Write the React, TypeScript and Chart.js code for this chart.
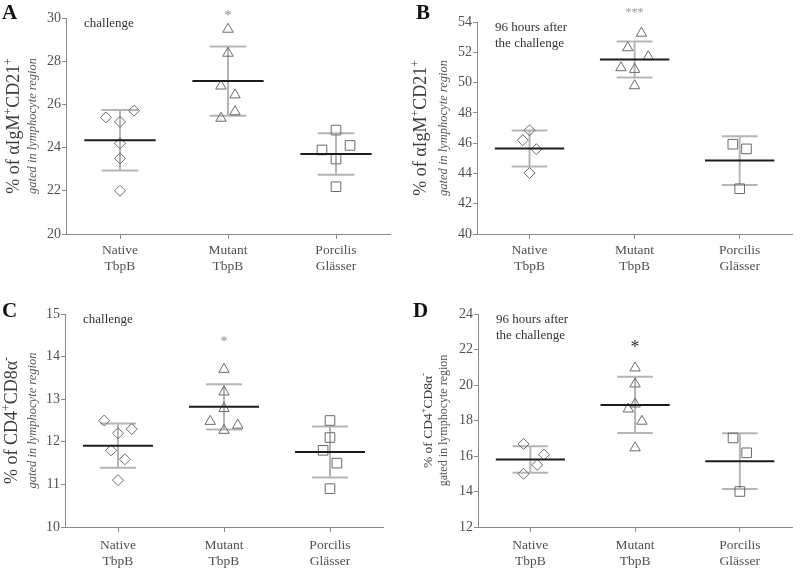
import React, { useEffect, useRef } from "react";
import { Chart, registerables } from "chart.js";

Chart.register(...registerables);

// ---------- DATA ----------
const categoryLabels: string[][] = [["Native", "TbpB"], ["Mutant", "TbpB"], ["Porcilis", "Glässer"]];

// Panel A: % of αIgM+CD21+ (challenge)
const aNative = [25.4, 25.71, 25.19, 24.2, 23.5, 22.0];
const aNativeLane = [-1, 1, 0, 0, 0, 0];
const aMutant = [29.48, 28.37, 26.85, 26.44, 25.66, 25.36];
const aMutantLane = [0, 0, -0.5, 0.5, 0.5, -0.5];
const aPorcilis = [24.81, 23.89, 24.1, 23.47, 22.19];
const aPorcilisLane = [0, -1, 1, 0, 0];
const aMeans = [24.34, 27.08, 23.7];
const aSDs = [1.4, 1.6, 0.96];
const aSig = ["", "*", ""];
const aSigY = 30.23;
const aTicks = { min: 20, max: 30, step: 2 };

// Panel B: % of αIgM+CD21+ (96 hours after the challenge)
const bNative = [46.85, 46.19, 45.6, 44.03];
const bNativeLane = [0, -0.5, 0.5, 0];
const bMutant = [53.26, 52.3, 51.71, 50.98, 50.87, 49.79];
const bMutantLane = [0.5, -0.5, 1, -1, 0, 0];
const bPorcilis = [45.93, 45.62, 42.99];
const bPorcilisLane = [-0.5, 0.5, 0];
const bMeans = [45.64, 51.53, 44.85];
const bSDs = [1.19, 1.19, 1.61];
const bSig = ["", "***", ""];
const bSigY = 54.8;
const bTicks = { min: 40, max: 54, step: 2 };

// Panel C: % of CD4+CD8α- (challenge)
const cNative = [12.5, 12.3, 12.2, 11.8, 11.59, 11.1];
const cNativeLane = [-1, 1, 0, -0.5, 0.5, 0];
const cMutant = [13.7, 13.17, 12.78, 12.48, 12.39, 12.27];
const cMutantLane = [0, 0, 0, -1, 1, 0];
const cPorcilis = [12.5, 12.1, 11.8, 11.5, 10.9];
const cPorcilisLane = [0, 0, -0.5, 0.5, 0];
const cMeans = [11.91, 12.82, 11.76];
const cSDs = [0.52, 0.53, 0.6];
const cSig = ["", "*", ""];
const cSigY = 14.41;
const cTicks = { min: 10, max: 15, step: 1 };

// Panel D: % of CD4+CD8α- (96 hours after the challenge)
const dNative = [16.68, 16.08, 15.5, 15.0];
const dNativeLane = [-0.5, 1, 0.5, -0.5];
const dMutant = [20.96, 20.06, 18.93, 18.65, 17.96, 16.46];
const dMutantLane = [0, 0, 0, -0.5, 0.5, 0];
const dPorcilis = [17.02, 16.18, 14.0];
const dPorcilisLane = [-0.5, 0.5, 0];
const dMeans = [15.8, 18.88, 15.71];
const dSDs = [0.75, 1.58, 1.57];
const dSig = ["", "*", ""];
const dSigY = 22.31;
const dTicks = { min: 12, max: 24, step: 2 };

const noteChallenge = ["challenge"];
const note96h = ["96 hours after", "the challenge"];

type Seg = [string, boolean];
const titleIgM: Seg[] = [["% of αIgM", false], ["+", true], ["CD21", false], ["+", true]];
const titleCD4: Seg[] = [["% of CD4", false], ["+", true], ["CD8α", false], ["-", true]];
const subTitle = "gated in lymphocyte region";

// ---------- STYLE ----------
const SERIF = "'Liberation Serif', 'Times New Roman', serif";
const AXIS = "#8a8a8a";
const TICK = "#505050";
const LANE = 0.13;
const MEAN_HALF = 0.33;
const CAP_HALF = 0.17;
const STYLES = ["rectRot", "triangle", "rect"];
const RADII = [5.5, 6, 6.8];

interface PanelDef {
  letter: string;
  letterX: number;
  letterY: number;
  left: number;
  top: number;
  width: number;
  height: number;
  yAxisW: number;
  xAxisH: number;
  padTop: number;
  padRight: number;
  labelPad: number;
  ticks: { min: number; max: number; step: number };
  groups: number[][];
  lanes: number[][];
  means: number[];
  sds: number[];
  sig: string[];
  sigY: number;
  sigSize: number;
  sigColor: string;
  note: string[];
  titleMain: Seg[];
  mainSize: number;
  mainOff: number;
  subSize: number;
  subOff: number;
  subItalic: boolean;
}

const panels: PanelDef[] = [
  {
    letter: "A", letterX: 2, letterY: 19, left: 0, top: 0, width: 400, height: 284,
    yAxisW: 66, xAxisH: 50, padTop: 18, padRight: 10, labelPad: 3, ticks: aTicks,
    groups: [aNative, aMutant, aPorcilis], lanes: [aNativeLane, aMutantLane, aPorcilisLane],
    means: aMeans, sds: aSDs, sig: aSig, sigY: aSigY, sigSize: 14, sigColor: "#8a8a8a",
    note: noteChallenge, titleMain: titleIgM, mainSize: 18, mainOff: 52, subSize: 12.5, subOff: 34, subItalic: true,
  },
  {
    letter: "B", letterX: 16, letterY: 19, left: 400, top: 0, width: 400, height: 284,
    yAxisW: 77, xAxisH: 50, padTop: 22, padRight: 3, labelPad: 3, ticks: bTicks,
    groups: [bNative, bMutant, bPorcilis], lanes: [bNativeLane, bMutantLane, bPorcilisLane],
    means: bMeans, sds: bSDs, sig: bSig, sigY: bSigY, sigSize: 12, sigColor: "#9a9a9a",
    note: note96h, titleMain: titleIgM, mainSize: 18, mainOff: 56, subSize: 12.5, subOff: 34, subItalic: true,
  },
  {
    letter: "C", letterX: 2, letterY: 33, left: 0, top: 284, width: 400, height: 284,
    yAxisW: 65, xAxisH: 41, padTop: 30, padRight: 17, labelPad: 5, ticks: cTicks,
    groups: [cNative, cMutant, cPorcilis], lanes: [cNativeLane, cMutantLane, cPorcilisLane],
    means: cMeans, sds: cSDs, sig: cSig, sigY: cSigY, sigSize: 14, sigColor: "#8a8a8a",
    note: noteChallenge, titleMain: titleCD4, mainSize: 18, mainOff: 53, subSize: 12.5, subOff: 33, subItalic: true,
  },
  {
    letter: "D", letterX: 13, letterY: 33, left: 400, top: 284, width: 400, height: 284,
    yAxisW: 78, xAxisH: 41, padTop: 30, padRight: 2, labelPad: 5, ticks: dTicks,
    groups: [dNative, dMutant, dPorcilis], lanes: [dNativeLane, dMutantLane, dPorcilisLane],
    means: dMeans, sds: dSDs, sig: dSig, sigY: dSigY, sigSize: 18, sigColor: "#333333",
    note: note96h, titleMain: titleCD4, mainSize: 13.5, mainOff: 50, subSize: 12, subOff: 35, subItalic: false,
  },
];

function drawRotated(ctx: CanvasRenderingContext2D, segs: Seg[], cx: number, cy: number, size: number, color: string, italic: boolean) {
  ctx.save();
  ctx.translate(cx, cy);
  ctx.rotate(-Math.PI / 2);
  ctx.fillStyle = color;
  ctx.textAlign = "left";
  ctx.textBaseline = "alphabetic";
  const supSize = size * 0.65;
  const fontFor = (sup: boolean) => `${italic ? "italic " : ""}${sup ? supSize : size}px ${SERIF}`;
  let total = 0;
  const widths = segs.map(([t, sup]) => {
    ctx.font = fontFor(sup);
    const w = ctx.measureText(t).width;
    total += w;
    return w;
  });
  let x = -total / 2;
  const base = size * 0.3;
  segs.forEach(([t, sup], i) => {
    ctx.font = fontFor(sup);
    ctx.fillText(t, x, sup ? base - size * 0.42 : base);
    x += widths[i];
  });
  ctx.restore();
}

function makeTextPlugin(def: PanelDef) {
  return {
    id: "panelText" + def.letter,
    afterDraw(chart: any) {
      const { ctx, chartArea: ca, scales } = chart;
      ctx.save();
      ctx.fillStyle = "#111";
      ctx.font = `bold 21px ${SERIF}`;
      ctx.textAlign = "left";
      ctx.textBaseline = "alphabetic";
      ctx.fillText(def.letter, def.letterX, def.letterY);

      const cy = (ca.top + ca.bottom) / 2;
      drawRotated(ctx, def.titleMain, ca.left - def.mainOff, cy, def.mainSize, "#3c3c3c", false);
      drawRotated(ctx, [[subTitle, false]], ca.left - def.subOff, cy, def.subSize, "#555555", def.subItalic);

      ctx.font = `13px ${SERIF}`;
      ctx.fillStyle = "#333";
      ctx.textAlign = "left";
      ctx.textBaseline = "middle";
      def.note.forEach((line, k) => ctx.fillText(line, ca.left + 18, ca.top + 6 + k * 16));

      ctx.font = `${def.sigSize}px ${SERIF}`;
      ctx.fillStyle = def.sigColor;
      ctx.textAlign = "center";
      ctx.textBaseline = "alphabetic";
      def.sig.forEach((s, i) => {
        if (!s) return;
        const x = scales.x.getPixelForValue(i + 1);
        const y = scales.y.getPixelForValue(def.sigY);
        ctx.fillText(s, x, y + def.sigSize * 0.5);
      });
      ctx.restore();
    },
  };
}

function buildConfig(def: PanelDef): any {
  const datasets: any[] = [];
  const meanData: any[] = [];
  def.means.forEach((m, i) => {
    const c = i + 1;
    meanData.push({ x: c - MEAN_HALF, y: m }, { x: c + MEAN_HALF, y: m }, { x: c, y: null });
  });
  datasets.push({
    type: "line", data: meanData, borderColor: "#1c1c1c", borderWidth: 2,
    pointRadius: 0, spanGaps: false, fill: false, tension: 0, order: 0,
  });
  def.groups.forEach((vals, gi) => {
    datasets.push({
      type: "scatter",
      data: vals.map((v, k) => ({ x: gi + 1 + def.lanes[gi][k] * LANE, y: v })),
      pointStyle: STYLES[gi], pointRadius: RADII[gi], borderColor: "#6a6a6a",
      backgroundColor: "rgba(0,0,0,0)", borderWidth: 1, order: 1,
    });
  });
  const errData: any[] = [];
  def.means.forEach((m, i) => {
    const c = i + 1;
    const s = def.sds[i];
    errData.push(
      { x: c, y: m - s }, { x: c, y: m + s }, { x: c, y: null },
      { x: c - CAP_HALF, y: m + s }, { x: c + CAP_HALF, y: m + s }, { x: c, y: null },
      { x: c - CAP_HALF, y: m - s }, { x: c + CAP_HALF, y: m - s }, { x: c, y: null }
    );
  });
  datasets.push({
    type: "line", data: errData, borderColor: "#b5b5b5", borderWidth: 2,
    pointRadius: 0, spanGaps: false, fill: false, tension: 0, order: 2,
  });

  return {
    type: "scatter",
    data: { datasets },
    plugins: [makeTextPlugin(def)],
    options: {
      animation: false,
      responsive: false,
      devicePixelRatio: 1,
      layout: { padding: { top: def.padTop, right: def.padRight, left: 0, bottom: 0 } },
      plugins: { legend: { display: false }, tooltip: { enabled: false }, title: { display: false } },
      scales: {
        x: {
          type: "linear", min: 0.5, max: 3.5,
          afterBuildTicks: (s: any) => { s.ticks = categoryLabels.map((_, i) => ({ value: i + 1 })); },
          afterFit: (s: any) => { s.height = def.xAxisH; },
          grid: { display: true, drawOnChartArea: false, drawTicks: true, tickLength: 5, color: AXIS, lineWidth: 1 },
          border: { display: true, color: AXIS, width: 1 },
          ticks: {
            callback: (v: number) => categoryLabels[Math.round(v) - 1],
            color: TICK, font: { family: SERIF, size: 13.5, lineHeight: 1.2 },
            padding: def.labelPad, autoSkip: false, maxRotation: 0,
          },
        },
        y: {
          type: "linear", min: def.ticks.min, max: def.ticks.max,
          afterFit: (s: any) => { s.width = def.yAxisW; },
          grid: { display: true, drawOnChartArea: false, drawTicks: true, tickLength: 4, color: AXIS, lineWidth: 1 },
          border: { display: true, color: AXIS, width: 1 },
          ticks: { stepSize: def.ticks.step, color: TICK, font: { family: SERIF, size: 14 }, padding: 1 },
        },
      },
    },
  };
}

function Panel({ def }: { def: PanelDef }) {
  const ref = useRef<HTMLCanvasElement>(null);
  useEffect(() => {
    const canvas = ref.current;
    if (!canvas) return;
    const chart = new Chart(canvas, buildConfig(def));
    return () => chart.destroy();
  }, [def]);
  return (
    <div style={{ position: "absolute", left: def.left, top: def.top, width: def.width, height: def.height }}>
      <canvas ref={ref} width={def.width} height={def.height} style={{ display: "block", width: def.width, height: def.height }} />
    </div>
  );
}

export default function App() {
  return (
    <div style={{ position: "absolute", left: 0, top: 0, width: 800, height: 568, background: "#fff", overflow: "hidden" }}>
      {panels.map((p) => (
        <Panel key={p.letter} def={p} />
      ))}
    </div>
  );
}
